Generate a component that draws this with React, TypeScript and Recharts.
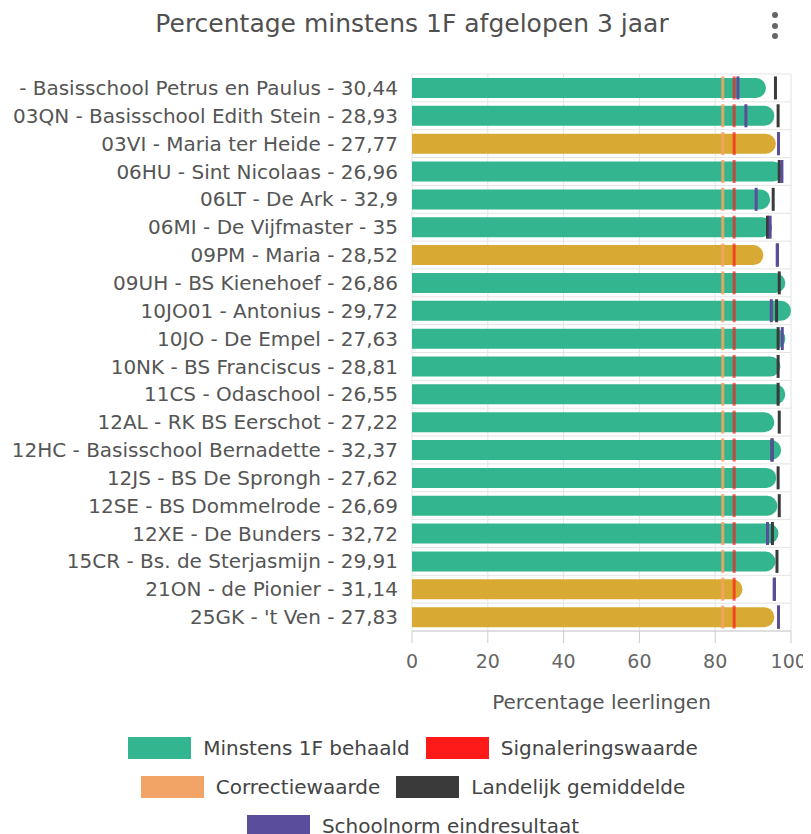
import {
  ComposedChart,
  Bar,
  Cell,
  Scatter,
  XAxis,
  YAxis,
  CartesianGrid,
  Label,
} from 'recharts';

const schools = [
  '- Basisschool Petrus en Paulus - 30,44',
  '03QN - Basisschool Edith Stein - 28,93',
  '03VI - Maria ter Heide - 27,77',
  '06HU - Sint Nicolaas - 26,96',
  '06LT - De Ark - 32,9',
  '06MI - De Vijfmaster - 35',
  '09PM - Maria - 28,52',
  '09UH - BS Kienehoef - 26,86',
  '10JO01 - Antonius - 29,72',
  '10JO - De Empel - 27,63',
  '10NK - BS Franciscus - 28,81',
  '11CS - Odaschool - 26,55',
  '12AL - RK BS Eerschot - 27,22',
  '12HC - Basisschool Bernadette - 32,37',
  '12JS - BS De Sprongh - 27,62',
  '12SE - BS Dommelrode - 26,69',
  '12XE - De Bunders - 32,72',
  '15CR - Bs. de Sterjasmijn - 29,91',
  '21ON - de Pionier - 31,14',
  "25GK - 't Ven - 27,83",
];

const behaald = [93.4, 95.6, 96.0, 97.9, 94.5, 95.0, 92.7, 98.5, 100, 98.5, 97.2, 98.5, 95.6, 97.4, 96.1, 96.4, 96.7, 95.9, 87.2, 95.6];
const correctiewaarde = [82, 82, 82, 82, 82, 82, 82, 82, 82, 82, 82, 82, 82, 82, 82, 82, 82, 82, 82, 82];
const signaleringswaarde = [85, 85, 85, 85, 85, 85, 85, 85, 85, 85, 85, 85, 85, 85, 85, 85, 85, 85, 85, 85];
const landelijk = [95.9, 96.6, 96.7, 96.9, 95.3, 93.8, 96.4, 96.9, 96.2, 96.6, 96.6, 96.6, 96.9, 95.0, 96.6, 96.9, 95.1, 96.3, 95.6, 96.7];
const schoolnorm = [86, 88.1, 96.7, 97.6, 90.8, 94.5, 96.4, null, 94.8, 97.7, null, null, null, 95.0, null, null, 93.8, null, 95.6, 96.7];

const xTicks = [0, 20, 40, 60, 80, 100];

const GREEN = '#33b58f';
const YELLOW = '#d8aa33';
const ORANGE = '#f2a466';
const RED = '#ff1a1a';
const DARK = '#3a3a3a';
const PURPLE = '#5a4d9c';

const legendRows = [
  [
    { name: 'Minstens 1F behaald', color: GREEN },
    { name: 'Signaleringswaarde', color: RED },
  ],
  [
    { name: 'Correctiewaarde', color: ORANGE },
    { name: 'Landelijk gemiddelde', color: DARK },
  ],
  [{ name: 'Schoolnorm eindresultaat', color: PURPLE }],
];

const FONT = '"DejaVu Sans", sans-serif';

const rows = schools.map((name, i) => ({
  name,
  behaald: behaald[i],
  correctie: correctiewaarde[i],
  signalering: signaleringswaarde[i],
  landelijk: landelijk[i],
  schoolnorm: schoolnorm[i],
}));

function marker(key: string, color: string, opacity = 1) {
  return (props: any) => {
    if (props.payload == null || props.payload[key] == null) return <g />;
    return (
      <rect
        x={props.cx - 1.5}
        y={props.cy - 11.5}
        width={3}
        height={23}
        fill={color}
        fillOpacity={opacity}
      />
    );
  };
}

export default function App() {
  const n = rows.length;
  return (
    <div style={{ position: 'relative', width: 795, height: 826, fontFamily: FONT, background: '#fff' }}>
      <div
        style={{
          position: 'absolute',
          top: 1,
          left: 0,
          width: 808,
          textAlign: 'center',
          fontSize: 25,
          color: '#505050',
        }}
      >
        Percentage minstens 1F afgelopen 3 jaar
      </div>
      <div style={{ position: 'absolute', left: 764, top: 4 }}>
        {[0, 1, 2].map(i => (
          <div key={i} style={{ width: 6, height: 6, borderRadius: 3, background: '#666', marginBottom: 4.5 }} />
        ))}
      </div>
      <ComposedChart
        width={795}
        height={720}
        data={rows}
        layout="vertical"
        margin={{ top: 66, right: 12, bottom: 0, left: 0 }}
        barSize={20}
      >
        <CartesianGrid
          stroke="#e4e4e4"
          horizontalCoordinatesGenerator={({ offset }: any) =>
            Array.from({ length: n + 1 }, (_, i) => offset.top + (i * offset.height) / n)
          }
        />
        <XAxis
          type="number"
          domain={[0, 100]}
          ticks={xTicks}
          tickSize={12}
          tickMargin={12}
          height={97}
          stroke="#ccc"
          tick={{ fontSize: 19, fill: '#666', fontFamily: FONT }}
        >
          <Label
            value="Percentage leerlingen"
            position="insideBottom"
            offset={19}
            style={{ fontSize: 20, fill: '#555', fontFamily: FONT }}
          />
        </XAxis>
        <YAxis
          type="category"
          dataKey="name"
          width={404}
          axisLine={false}
          tickLine={false}
          tickMargin={8}
          interval={0}
          tick={{ fontSize: 20, fill: '#555', fontFamily: FONT }}
        />
        <Bar dataKey="behaald" radius={[0, 10, 10, 0]} isAnimationActive={false}>
          {rows.map((r, i) => (
            <Cell key={i} fill={r.schoolnorm != null && r.behaald < r.schoolnorm ? YELLOW : GREEN} />
          ))}
        </Bar>
        <Scatter dataKey="correctie" shape={marker('correctie', ORANGE, 0.9)} isAnimationActive={false} />
        <Scatter dataKey="signalering" shape={marker('signalering', RED, 0.7)} isAnimationActive={false} />
        <Scatter dataKey="landelijk" shape={marker('landelijk', DARK)} isAnimationActive={false} />
        <Scatter dataKey="schoolnorm" shape={marker('schoolnorm', PURPLE)} isAnimationActive={false} />
      </ComposedChart>
      <div style={{ position: 'absolute', top: 720, left: 0, width: 810, color: '#444', fontSize: 20 }}>
        {legendRows.map((row, ri) => (
          <div key={ri} style={{ display: 'flex', justifyContent: 'center', height: 39, alignItems: 'center' }}>
            {row.map(item => (
              <div key={item.name} style={{ display: 'flex', alignItems: 'center', margin: '0 8px' }}>
                <span style={{ display: 'inline-block', width: 63, height: 22, background: item.color, marginRight: 12 }} />
                <span>{item.name}</span>
              </div>
            ))}
          </div>
        ))}
      </div>
    </div>
  );
}
